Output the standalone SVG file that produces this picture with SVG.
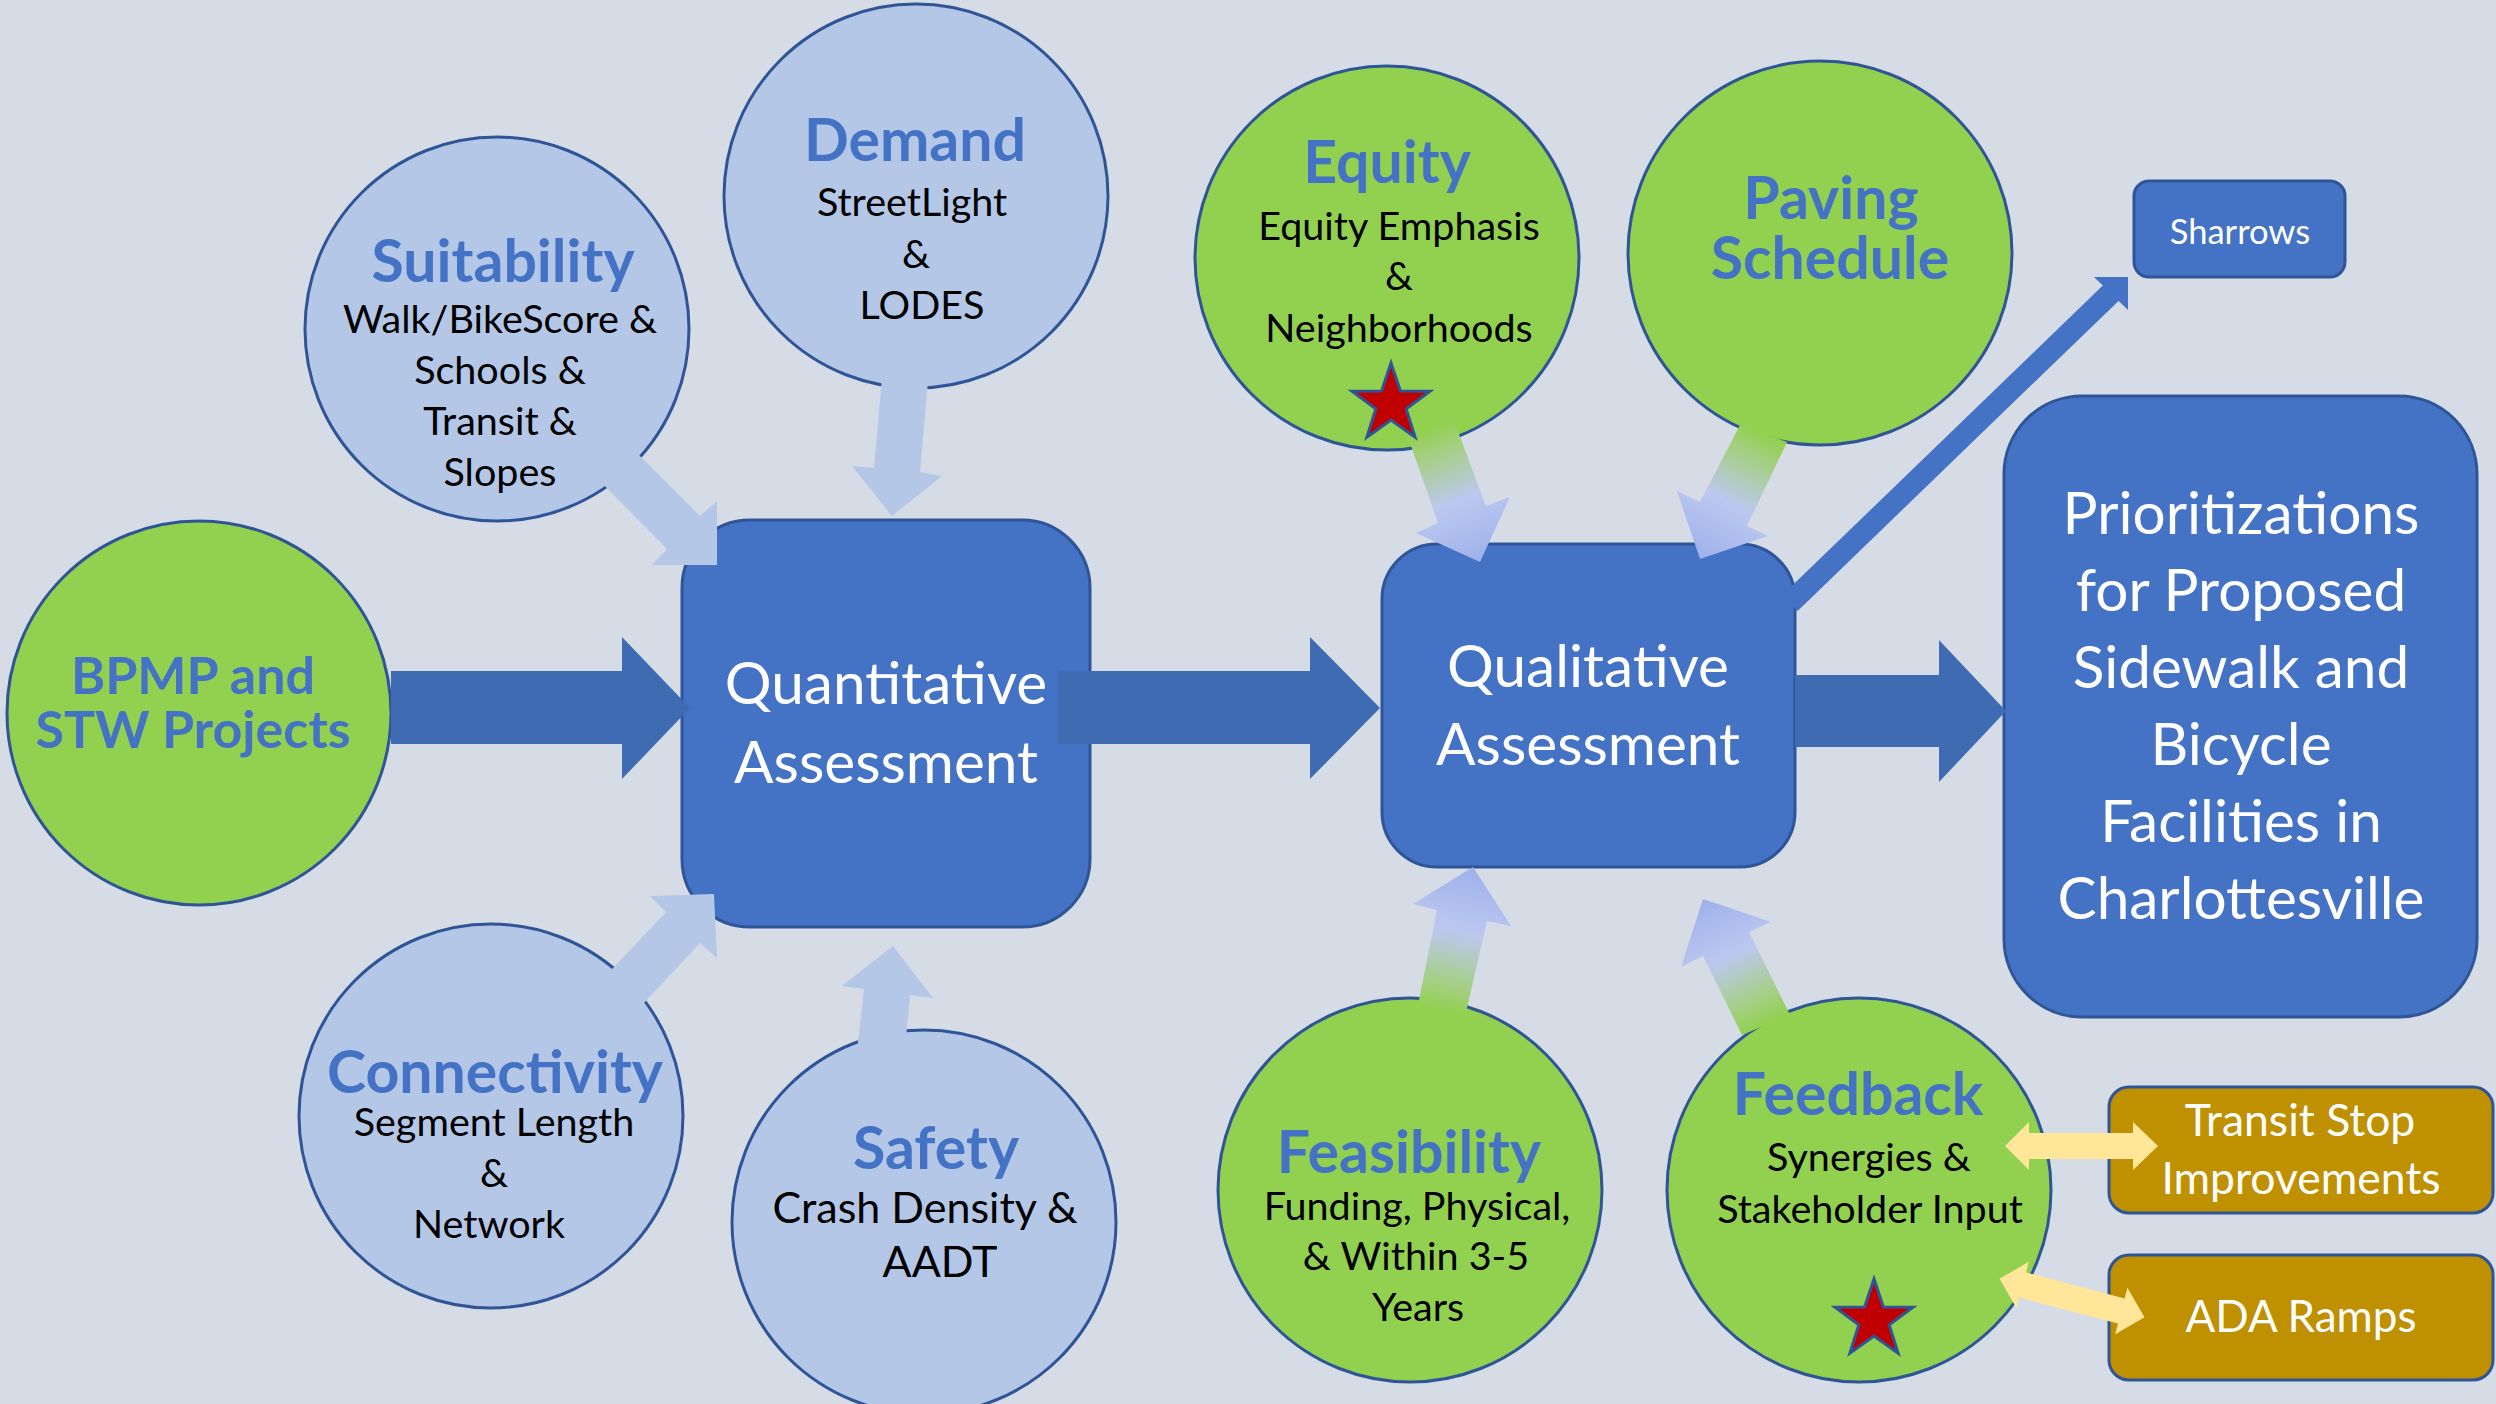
<svg xmlns="http://www.w3.org/2000/svg" width="2496" height="1404" viewBox="0 0 2496 1404">
<defs>
<style>
text{font-family:Lato,"Liberation Sans",sans-serif;text-anchor:middle}
.bc{fill:#B4C7E7;stroke:#2F5597;stroke-width:3}
.gc{fill:#92D050;stroke:#2F5597;stroke-width:3}
.box{fill:#4472C4;stroke:#2F5597;stroke-width:3}
.gold{fill:#BF9000;stroke:#2F5597;stroke-width:3}
.t{font-weight:bold;fill:#4472C4;font-size:59px}
.b{fill:#000;font-size:39.5px}
.w{fill:#fff}
.bx{font-size:58.5px}
.big{fill:#3F6BB3}
.lt{fill:#B4C7E7}
.yl{fill:#FFE699}
.star{fill:#C00000;stroke:#2F5597;stroke-width:3;stroke-linejoin:miter}
</style>
<linearGradient id="gEq" gradientUnits="userSpaceOnUse" x1="1430" y1="428" x2="1480" y2="562">
<stop offset="0" stop-color="#92D050"/><stop offset="0.2" stop-color="#A6CF88"/><stop offset="0.55" stop-color="#BCC8F0"/><stop offset="1" stop-color="#9DB1EA"/>
</linearGradient>
<linearGradient id="gPv" gradientUnits="userSpaceOnUse" x1="1763" y1="433" x2="1700" y2="559">
<stop offset="0" stop-color="#92D050"/><stop offset="0.2" stop-color="#A6CF88"/><stop offset="0.55" stop-color="#BCC8F0"/><stop offset="1" stop-color="#9DB1EA"/>
</linearGradient>
<linearGradient id="gFs" gradientUnits="userSpaceOnUse" x1="1441" y1="1011" x2="1473" y2="867">
<stop offset="0" stop-color="#92D050"/><stop offset="0.2" stop-color="#A6CF88"/><stop offset="0.55" stop-color="#BCC8F0"/><stop offset="1" stop-color="#9DB1EA"/>
</linearGradient>
<linearGradient id="gFb" gradientUnits="userSpaceOnUse" x1="1765" y1="1025" x2="1703" y2="899">
<stop offset="0" stop-color="#92D050"/><stop offset="0.2" stop-color="#A6CF88"/><stop offset="0.55" stop-color="#BCC8F0"/><stop offset="1" stop-color="#9DB1EA"/>
</linearGradient>
<polygon id="starShape" points="0,-41 9.4,-12.9 39,-12.7 15.2,4.9 24.1,33.2 0,16 -24.1,33.2 -15.2,4.9 -39,-12.7 -9.4,-12.9"/>
</defs>
<rect x="0" y="0" width="2496" height="1404" fill="#D6DCE5"/>

<g id="bpmp">
<circle class="gc" cx="199" cy="713" r="192"/>
<text class="t" x="193" y="694" font-size="52" style="font-size:52px">BPMP and</text>
<text class="t" x="193" y="748" style="font-size:52px">STW Projects</text>
</g>
<g id="suitability">
<circle class="bc" cx="497" cy="329" r="192"/>
<text class="t" x="503" y="282">Suitability</text>
<text class="b" x="500" y="333">Walk/BikeScore &amp;</text>
<text class="b" x="500" y="384">Schools &amp;</text>
<text class="b" x="500" y="435">Transit &amp;</text>
<text class="b" x="500" y="486">Slopes</text>
</g>
<g id="demand">
<circle class="bc" cx="916" cy="196" r="192"/>
<text class="t" x="915" y="161">Demand</text>
<text class="b" x="912" y="216">StreetLight</text>
<text class="b" x="916" y="268">&amp;</text>
<text class="b" x="922" y="319">LODES</text>
</g>
<g id="connectivity">
<circle class="bc" cx="491" cy="1116" r="192"/>
<text class="t" x="495" y="1093">Connectivity</text>
<text class="b" x="494" y="1136">Segment Length</text>
<text class="b" x="494" y="1187">&amp;</text>
<text class="b" x="489" y="1238">Network</text>
</g>
<g id="safety">
<circle class="bc" cx="924" cy="1222" r="192"/>
<text class="t" x="936" y="1169">Safety</text>
<text class="b" x="925" y="1223" style="font-size:43px">Crash Density &amp;</text>
<text class="b" x="940" y="1277" style="font-size:43px">AADT</text>
</g>
<g id="quantitative">
<rect class="box" x="682" y="520" width="408" height="407" rx="68" ry="68"/>
<text class="w bx" x="886" y="704">Quantitative</text>
<text class="w bx" x="886" y="783">Assessment</text>
</g>
<g id="equity">
<circle class="gc" cx="1387" cy="258" r="192"/>
<text class="t" x="1387" y="183">Equity</text>
<text class="b" x="1399" y="240">Equity Emphasis</text>
<text class="b" x="1399" y="290">&amp;</text>
<text class="b" x="1399" y="342">Neighborhoods</text>
</g>
<g id="paving">
<circle class="gc" cx="1820" cy="253" r="192"/>
<text class="t" x="1831" y="219">Paving</text>
<text class="t" x="1830" y="279">Schedule</text>
</g>
<g id="feasibility">
<circle class="gc" cx="1410" cy="1190" r="192"/>
<text class="t" x="1409" y="1173">Feasibility</text>
<text class="b" x="1417" y="1220">Funding, Physical,</text>
<text class="b" x="1416" y="1270">&amp; Within 3-5</text>
<text class="b" x="1418" y="1321">Years</text>
</g>
<g id="feedback">
<circle class="gc" cx="1859" cy="1190" r="192"/>
<text class="t" x="1858" y="1115">Feedback</text>
<text class="b" x="1869" y="1171">Synergies &amp;</text>
<text class="b" x="1870" y="1223">Stakeholder Input</text>
</g>
<g id="qualitative">
<rect class="box" x="1382" y="544" width="413" height="323" rx="55" ry="55"/>
<text class="w bx" x="1588" y="687">Qualitative</text>
<text class="w bx" x="1588" y="765">Assessment</text>
</g>
<g id="prioritizations">
<rect class="box" x="2004" y="396" width="473" height="621" rx="78" ry="78"/>
<text class="w bx" x="2241" y="534">Prioritizations</text>
<text class="w bx" x="2241" y="611">for Proposed</text>
<text class="w bx" x="2241" y="688">Sidewalk and</text>
<text class="w bx" x="2241" y="765">Bicycle</text>
<text class="w bx" x="2241" y="842">Facilities in</text>
<text class="w bx" x="2241" y="919">Charlottesville</text>
</g>
<g id="sharrows">
<rect class="box" x="2134" y="181" width="211" height="96" rx="15" ry="15"/>
<text class="w" x="2240" y="244" font-size="34.5">Sharrows</text>
</g>
<g id="transit">
<rect class="gold" x="2109" y="1087" width="384" height="126" rx="20" ry="20"/>
<text class="w" x="2300" y="1136" font-size="44.5">Transit Stop</text>
<text class="w" x="2301" y="1194" font-size="44.5">Improvements</text>
</g>
<g id="ada">
<rect class="gold" x="2109" y="1255" width="384" height="125" rx="20" ry="20"/>
<text class="w" x="2301" y="1332" font-size="44">ADA Ramps</text>
</g>

<g id="connectors">
<polygon class="big" points="391,671 622,671 622,637 690,708 622,779 622,744 391,744"/>
<polygon class="big" points="1058,671 1310,671 1310,637 1380,708 1310,779 1310,744 1058,744"/>
<polygon class="big" points="1795,675 1939,675 1939,640 2006,711 1939,782 1939,747 1795,747"/>
<line x1="1790" y1="603" x2="2113" y2="291" stroke="#4472C4" stroke-width="22"/>
<polygon fill="#4472C4" points="2094,277 2128,277 2128,310"/>
<polygon class="lt" points="627,443 700,516 717,501 717,565 652,565 667,549 593,474"/>
<polygon class="lt" points="598,984 666,912 650,896 714,894 717,958 700,943 630,1018"/>
<polygon class="lt" points="882,378 874,468 852,466 892,516 942,476 920,472 928,381"/>
<polygon class="lt" points="893,946 933,998 910,995 904,1060 856,1060 864,989 842,986"/>
<polygon fill="url(#gEq)" points="1408,437 1438,523 1416,533 1480,562 1510,497 1486,506 1453,418"/>
<polygon fill="url(#gPv)" points="1740,425 1700,502 1677,491 1700,559 1768,536 1747,526 1787,442"/>
<polygon fill="url(#gFs)" points="1473,867 1511,926 1487,921 1466,1012 1417,1010 1437,910 1413,904"/>
<polygon fill="url(#gFb)" points="1703,899 1771,922 1749,932 1790,1015 1742,1035 1703,956 1681,967"/>
<polygon class="yl" transform="translate(2081,1146)" points="-76,0 -52,-24 -52,-13 52,-13 52,-24 77,0 52,24 52,13 -52,13 -52,24"/>
<polygon class="yl" transform="translate(2072,1298) rotate(14.8)" points="-75,0 -51,-24 -51,-13 51,-13 51,-24 75,0 51,24 51,13 -51,13 -51,24"/>
</g>

<g id="equity-star">
<use href="#starShape" class="star" transform="translate(1391,404)"/>
</g>
<g id="feedback-star">
<use href="#starShape" class="star" transform="translate(1874,1320)"/>
</g>
</svg>
